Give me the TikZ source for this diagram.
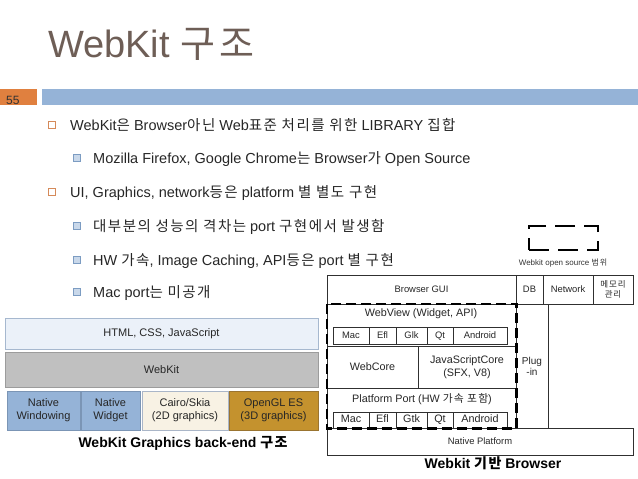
\documentclass[tikz,border=0pt]{standalone}
\usepackage{fontspec}
\setmainfont{Liberation Sans}
\newfontfamily\krfont[LetterSpace=10]{Noto Sans CJK KR}
\newcommand{\kr}[1]{{\krfont #1}}
\usetikzlibrary{positioning}

\definecolor{titlebrown}{HTML}{6E5E56}
\definecolor{barblue}{HTML}{95B3D7}
\definecolor{pageorange}{HTML}{E0803F}
\definecolor{bodygray}{HTML}{262626}
\definecolor{bulletorange}{HTML}{D58A5A}
\definecolor{bulletblue}{HTML}{7C9CC2}
\definecolor{bulletlight}{HTML}{C9D8EA}
\definecolor{htmlfill}{HTML}{EBF1F9}
\definecolor{htmldraw}{HTML}{A6B8CF}
\definecolor{kitfill}{HTML}{C0C0C0}
\definecolor{kitdraw}{HTML}{9C9C9C}
\definecolor{nativefill}{HTML}{95B3D7}
\definecolor{nativedraw}{HTML}{7B95B5}
\definecolor{cairofill}{HTML}{F8F2E4}
\definecolor{cairodraw}{HTML}{AAB6C8}
\definecolor{glfill}{HTML}{C4922E}
\definecolor{gldraw}{HTML}{9A7430}
\definecolor{cellline}{HTML}{303030}

\begin{document}
\begin{tikzpicture}[
    x=1pt, y=-1pt,
    lvlone/.style={
        anchor=base west,
        inner sep=0,
        text=bodygray,
        font=\fontsize{14.5}{17}\selectfont
    },
    lvltwo/.style={
        anchor=base west,
        inner sep=0,
        text=bodygray,
        font=\fontsize{14.5}{17}\selectfont
    },
    markone/.style={draw=bulletorange, line width=0.9pt, fill=white, minimum size=6.5pt, inner sep=0},
    marktwo/.style={draw=bulletblue, line width=1.6pt, fill=bulletlight, minimum size=7pt, inner sep=0},
    layer/.style={
        draw,
        line width=0.9pt,
        inner sep=0,
        align=center,
        text=black!85,
        font=\fontsize{11}{13}\selectfont
    },
    cell/.style={
        draw=cellline,
        line width=0.8pt,
        inner sep=0,
        align=center,
        text=black!85,
        font=\fontsize{9.4}{11}\selectfont
    },
    smallcell/.style={cell, text height=7pt, text depth=1.5pt},
    caption/.style={font=\fontsize{14}{16}\selectfont\bfseries, inner sep=0}
]
    \useasboundingbox (0,0) rectangle (638,479);

    % Title and page bar
    \node[anchor=base west, inner sep=0, text=titlebrown, font=\fontsize{38}{40}\selectfont] (title) at (48,57) {WebKit \kr{구조}};
    \fill[pageorange] (0,89) rectangle (37,105);
    \fill[barblue] (42,89) rectangle (638,105);
    \node[anchor=base west, inner sep=0, text=black!80, font=\fontsize{12}{12}\selectfont] (pagenum) at (6,104) {55};

    % Bullets
    \node[markone] (m1) at (52,125) {};
    \node[lvlone] (t1) at (70,130) {WebKit\kr{은} Browser\kr{아닌} Web\kr{표준 처리를 위한} LIBRARY \kr{집합}};
    \node[marktwo] (m2) at (77,158) {};
    \node[lvltwo] (t2) at (93,163) {Mozilla Firefox, Google Chrome\kr{는} Browser\kr{가} Open Source};
    \node[markone] (m3) at (52,192) {};
    \node[lvlone] (t3) at (70,197) {UI, Graphics, network\kr{등은} platform \kr{별 별도 구현}};
    \node[marktwo] (m4) at (77,226) {};
    \node[lvltwo] (t4) at (93,231) {\kr{대부분의 성능의 격차는} port \kr{구현에서 발생함}};
    \node[marktwo] (m5) at (77,260) {};
    \node[lvltwo] (t5) at (93,265) {HW \kr{가속}, Image Caching, API\kr{등은} port \kr{별 구현}};
    \node[marktwo] (m6) at (77,292) {};
    \node[lvltwo] (t6) at (93,297) {Mac port\kr{는 미공개}};

    % Graphics back-end stack
    \node[layer, draw=htmldraw, fill=htmlfill, minimum width=313, minimum height=31] (html) at (161.5,333.5) {HTML, CSS, JavaScript};
    \node[layer, draw=kitdraw, fill=kitfill, minimum width=313, minimum height=35] (webkit) at (161.5,369.5) {WebKit};
    \node[layer, draw=nativedraw, fill=nativefill, minimum width=73, minimum height=39] (natwin) at (43.5,410.5) {Native\\Windowing};
    \node[layer, draw=nativedraw, fill=nativefill, minimum width=59, minimum height=39] (natwid) at (110.5,410.5) {Native\\Widget};
    \node[layer, draw=cairodraw, fill=cairofill, minimum width=86, minimum height=39] (cairo) at (185,410.5) {Cairo/Skia\\(2D graphics)};
    \node[layer, draw=gldraw, fill=glfill, minimum width=89, minimum height=39] (opengl) at (273.5,410.5) {OpenGL ES\\(3D graphics)};
    \node[caption] (leftcap) at (183,443) {WebKit Graphics back-end \kr{구조}};

    % Legend
    \node[draw, line width=2.8pt, dash pattern=on 20pt off 9pt, minimum width=69, minimum height=24, inner sep=0] (legend) at (563.5,238) {};
    \node[inner sep=0, font=\fontsize{8}{9}\selectfont, text=black!80] (legendtext) at (563,263) {Webkit open source \kr{범위}};

    % Webkit based browser
    \node[cell, minimum width=189, minimum height=29] (gui) at (421.5,289.5) {Browser GUI};
    \node[cell, minimum width=27, minimum height=29] (db) at (529.5,289.5) {DB};
    \node[cell, minimum width=50, minimum height=29] (network) at (568,289.5) {Network};
    \node[cell, minimum width=40, minimum height=29, font=\fontsize{8.5}{10}\selectfont] (memory) at (613,289.5) {\kr{메모리}\\\kr{관리}};
    \node[cell, minimum width=189, minimum height=124] (webkitcol) at (421.5,366) {};
    \node[cell, minimum width=32, minimum height=124, font=\fontsize{10}{11}\selectfont] (plugin) at (532,366) {Plug\\-in};
    \node[cell, minimum width=306, minimum height=27] (native) at (480,441.5) {Native Platform};

    \node[inner sep=0, text=black!85, font=\fontsize{10.8}{12}\selectfont] (webview) at (421,314) {WebView (Widget, API)};
    \node[smallcell, minimum width=36, minimum height=17] (wvmac) at (351,335.5) {Mac};
    \node[smallcell, minimum width=27, minimum height=17] (wvefl) at (382.5,335.5) {Efl};
    \node[smallcell, minimum width=31, minimum height=17] (wvglk) at (411.5,335.5) {Glk};
    \node[smallcell, minimum width=26, minimum height=17] (wvqt) at (440,335.5) {Qt};
    \node[smallcell, minimum width=54, minimum height=17] (wvandroid) at (480,335.5) {Android};

    \node[cell, minimum width=91, minimum height=42, font=\fontsize{10.8}{13}\selectfont] (webcore) at (372.5,367) {WebCore};
    \node[cell, minimum width=98, minimum height=42, font=\fontsize{10.8}{13}\selectfont] (jsc) at (467,367) {JavaScriptCore\\(SFX, V8)};

    \node[inner sep=0, text=black!85, font=\fontsize{10.8}{12}\selectfont] (platport) at (422,399) {Platform Port (HW \kr{가속 포함})};
    \node[smallcell, minimum width=36, minimum height=16, font=\fontsize{10.8}{12}\selectfont] (ppmac) at (351,420) {Mac};
    \node[smallcell, minimum width=27, minimum height=16, font=\fontsize{10.8}{12}\selectfont] (ppefl) at (382.5,420) {Efl};
    \node[smallcell, minimum width=31, minimum height=16, font=\fontsize{10.8}{12}\selectfont] (ppgtk) at (411.5,420) {Gtk};
    \node[smallcell, minimum width=26, minimum height=16, font=\fontsize{10.8}{12}\selectfont] (ppqt) at (440,420) {Qt};
    \node[smallcell, minimum width=54, minimum height=16, font=\fontsize{10.8}{12}\selectfont] (ppandroid) at (480,420) {Android};

    % Webkit scope
    \draw[line width=2.2pt, dash pattern=on 10pt off 5pt] (webkitcol.north west) rectangle (webkitcol.south east);
    \node[caption] (rightcap) at (493,463) {Webkit \kr{기반} Browser};
\end{tikzpicture}
\end{document}
